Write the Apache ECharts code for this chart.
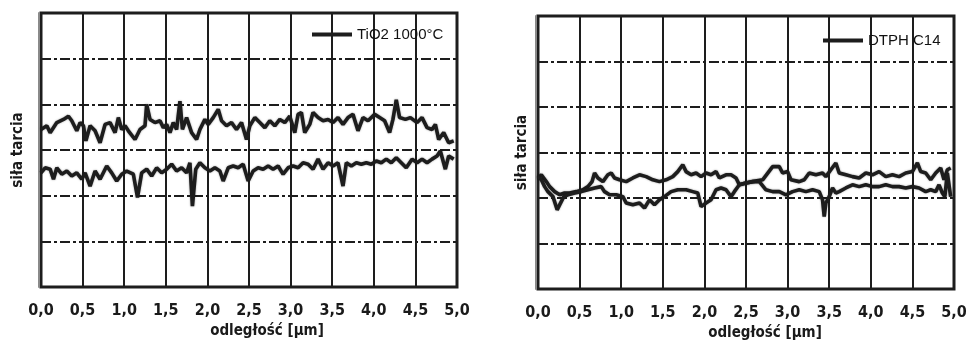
<!DOCTYPE html>
<html>
<head>
<meta charset="utf-8">
<script src="https://cdn.jsdelivr.net/npm/echarts@6/dist/echarts.min.js"></script>
<style>
  html, body { margin: 0; padding: 0; background: #ffffff; }
  #chart { width: 966px; height: 340px; }
</style>
</head>
<body>
<div id="chart"></div>
<script>
// Friction force traces along the scan distance (forward and return passes)
const xTickLabels = ['0,0', '0,5', '1,0', '1,5', '2,0', '2,5', '3,0', '3,5', '4,0', '4,5', '5,0'];
const seriesNames = ['TiO2 1000°C', 'DTPH C14'];
const xAxisTitle = 'odległość [µm]';
const yAxisTitle = 'siła tarcia';

// TiO2 1000°C - upper pass
const tioUpperX = [0.00,0.07,0.11,0.19,0.27,0.33,0.37,0.43,0.47,0.51,0.54,0.59,0.65,0.71,0.77,0.83,0.89,0.93,0.97,1.01,1.05,1.13,1.19,1.25,1.27,1.31,1.37,1.43,1.47,1.51,1.55,1.59,1.63,1.67,1.70,1.75,1.81,1.87,1.91,1.97,2.01,2.07,2.13,2.17,2.23,2.29,2.35,2.41,2.47,2.51,2.57,2.63,2.69,2.75,2.81,2.87,2.93,2.99,3.05,3.09,3.13,3.17,3.23,3.27,3.33,3.39,3.45,3.51,3.57,3.63,3.69,3.75,3.81,3.87,3.93,4.01,4.07,4.13,4.19,4.23,4.27,4.31,4.38,4.44,4.52,4.58,4.64,4.70,4.74,4.78,4.84,4.90,4.96];
const tioUpperY = [3.45,3.53,3.38,3.60,3.67,3.74,3.64,3.42,3.60,3.53,3.20,3.53,3.42,3.16,3.56,3.60,3.38,3.71,3.45,3.53,3.42,3.23,3.45,3.53,4.00,3.67,3.60,3.64,3.49,3.56,3.38,3.60,3.45,4.07,3.45,3.71,3.38,3.23,3.45,3.67,3.56,3.71,3.89,3.64,3.53,3.60,3.45,3.60,3.23,3.53,3.71,3.60,3.49,3.64,3.53,3.67,3.60,3.74,3.38,3.78,3.82,3.38,3.56,3.82,3.71,3.64,3.67,3.60,3.71,3.56,3.71,3.78,3.42,3.71,3.64,3.78,3.71,3.64,3.38,3.67,4.10,3.71,3.67,3.71,3.60,3.71,3.49,3.45,3.56,3.23,3.38,3.16,3.20];

// TiO2 1000°C - lower pass
const tioLowerX = [0.00,0.05,0.11,0.15,0.19,0.25,0.31,0.37,0.43,0.49,0.53,0.59,0.65,0.71,0.79,0.85,0.91,0.97,1.03,1.11,1.16,1.21,1.27,1.33,1.39,1.45,1.51,1.57,1.63,1.69,1.75,1.79,1.82,1.86,1.91,1.97,2.03,2.09,2.15,2.19,2.25,2.31,2.37,2.43,2.49,2.55,2.61,2.67,2.73,2.79,2.85,2.91,2.97,3.03,3.09,3.15,3.21,3.27,3.33,3.39,3.45,3.51,3.57,3.63,3.67,3.73,3.79,3.85,3.91,3.97,4.03,4.09,4.15,4.21,4.27,4.33,4.39,4.46,4.52,4.58,4.64,4.70,4.76,4.80,4.86,4.90,4.96];
const tioLowerY = [2.50,2.61,2.58,2.36,2.61,2.47,2.54,2.43,2.50,2.36,2.50,2.21,2.54,2.36,2.65,2.50,2.32,2.47,2.54,2.47,1.96,2.50,2.58,2.43,2.61,2.50,2.58,2.69,2.54,2.61,2.50,2.72,1.77,2.58,2.72,2.61,2.54,2.61,2.54,2.32,2.61,2.65,2.61,2.69,2.32,2.54,2.61,2.58,2.65,2.58,2.65,2.47,2.61,2.65,2.61,2.72,2.69,2.58,2.80,2.58,2.72,2.65,2.72,2.21,2.72,2.65,2.72,2.69,2.72,2.69,2.76,2.72,2.80,2.72,2.83,2.72,2.61,2.80,2.72,2.80,2.72,2.80,2.87,2.98,2.58,2.87,2.80];

// DTPH C14 - upper pass
const dtphUpperX = [0.00,0.04,0.10,0.14,0.20,0.26,0.32,0.38,0.46,0.54,0.60,0.65,0.68,0.72,0.78,0.84,0.88,0.92,0.98,1.06,1.14,1.22,1.30,1.38,1.46,1.54,1.62,1.68,1.74,1.78,1.84,1.90,1.96,2.02,2.08,2.14,2.18,2.26,2.32,2.38,2.42,2.50,2.58,2.70,2.82,2.90,2.94,3.00,3.04,3.14,3.20,3.26,3.34,3.42,3.46,3.52,3.58,3.62,3.70,3.78,3.86,3.94,4.02,4.10,4.18,4.26,4.34,4.42,4.50,4.56,4.60,4.66,4.72,4.78,4.84,4.88,4.92,4.96];
const dtphUpperY = [2.44,2.51,2.36,2.25,2.14,2.07,2.11,2.11,2.14,2.18,2.25,2.36,2.55,2.44,2.36,2.51,2.55,2.44,2.40,2.36,2.44,2.51,2.47,2.40,2.36,2.40,2.47,2.58,2.73,2.58,2.51,2.55,2.47,2.55,2.51,2.58,2.44,2.51,2.51,2.44,2.29,2.33,2.36,2.40,2.69,2.69,2.55,2.58,2.40,2.36,2.40,2.55,2.51,2.55,2.47,2.62,2.77,2.55,2.51,2.47,2.44,2.55,2.51,2.58,2.47,2.51,2.47,2.55,2.58,2.77,2.58,2.55,2.40,2.55,2.66,2.40,2.62,2.66];

// DTPH C14 - lower pass
const dtphLowerX = [0.00,0.04,0.08,0.12,0.18,0.23,0.26,0.31,0.36,0.44,0.52,0.60,0.68,0.76,0.80,0.86,0.94,1.02,1.06,1.14,1.22,1.28,1.34,1.40,1.46,1.52,1.60,1.68,1.78,1.86,1.92,1.96,2.02,2.08,2.14,2.20,2.26,2.32,2.36,2.42,2.50,2.58,2.66,2.74,2.82,2.90,2.98,3.06,3.14,3.22,3.30,3.38,3.42,3.44,3.46,3.50,3.54,3.58,3.62,3.70,3.78,3.86,3.94,4.02,4.10,4.18,4.26,4.34,4.42,4.50,4.58,4.66,4.72,4.78,4.82,4.86,4.89,4.92,4.96];
const dtphLowerY = [2.47,2.40,2.25,2.14,2.03,1.74,1.85,2.03,2.07,2.11,2.14,2.18,2.22,2.25,2.14,2.07,2.07,2.03,1.89,1.85,1.89,1.78,1.96,1.85,1.96,2.03,2.14,2.18,2.18,2.14,2.11,1.81,1.89,1.96,2.18,2.22,2.18,2.03,2.14,2.29,2.33,2.36,2.36,2.18,2.14,2.14,2.07,2.14,2.18,2.14,2.18,2.14,1.96,1.59,1.89,2.03,2.22,2.11,2.14,2.22,2.29,2.25,2.29,2.25,2.25,2.29,2.25,2.25,2.22,2.25,2.22,2.14,2.18,2.14,2.29,2.11,2.03,2.55,2.03];

const zip = (xs, ys) => xs.map((x, i) => [x, ys[i]]);

const INK = '#1d1d1d';
const NARROW = "'Liberation Sans Narrow', 'DejaVu Sans Condensed', 'Arial Narrow', sans-serif";
const PLAIN = "'Liberation Sans', Arial, sans-serif";

const panels = [
  { left: 41, top: 13, width: 416, height: 274, nameGap: 13, namePad: 36, legendLeft: 312, legendTop: 27 },
  { left: 538, top: 16, width: 416, height: 273, nameGap: 6, namePad: 38, legendLeft: 823, legendTop: 33 }
];

function xAxisFor(i, p) {
  return {
    type: 'value', gridIndex: i, min: 0, max: 5, interval: 0.5,
    axisLine: { show: false },
    axisTick: { show: false },
    splitLine: { show: true, lineStyle: { color: INK, width: 2, type: 'solid' } },
    axisLabel: {
      margin: 16, color: '#1a1a1a', fontFamily: NARROW, fontWeight: 'bold', fontSize: 16,
      formatter: v => xTickLabels[Math.round(v / 0.5)]
    },
    name: xAxisTitle, nameLocation: 'middle', nameGap: 36,
    nameTextStyle: { color: '#1a1a1a', fontFamily: NARROW, fontWeight: 'bold', fontSize: 15, padding: [0, 0, 0, p.namePad] }
  };
}

function yAxisFor(i, p) {
  return {
    type: 'value', gridIndex: i, min: 0, max: 6, interval: 1,
    axisLine: { show: true, onZero: false, lineStyle: { color: '#8a8a8a', width: 2 } },
    offset: 2,
    axisTick: { show: false },
    axisLabel: { show: false },
    splitLine: { show: true, lineStyle: { color: INK, width: 2, type: [10, 3, 3, 3] } },
    name: yAxisTitle, nameLocation: 'middle', nameRotate: 90, nameGap: p.nameGap,
    nameTextStyle: { color: '#1a1a1a', fontFamily: NARROW, fontWeight: 'bold', fontSize: 15 }
  };
}

function trace(name, i, data) {
  return {
    name: name, type: 'line', xAxisIndex: i, yAxisIndex: i,
    data: data, symbol: 'none', showSymbol: false, smooth: false,
    lineStyle: { color: INK, width: 3.6, shadowColor: 'rgba(0,0,0,0.4)', shadowBlur: 2 },
    itemStyle: { color: INK },
    emphasis: { disabled: true }, z: 3
  };
}

const option = {
  backgroundColor: '#ffffff',
  animation: false,
  grid: panels.map(p => ({
    left: p.left, top: p.top, width: p.width, height: p.height,
    outerBoundsMode: 'none',
    show: true, borderColor: INK, borderWidth: 3, backgroundColor: 'transparent', containLabel: false
  })),
  xAxis: panels.map((p, i) => xAxisFor(i, p)),
  yAxis: panels.map((p, i) => yAxisFor(i, p)),
  legend: panels.map((p, i) => ({
    left: p.legendLeft, top: p.legendTop, padding: 0,
    data: [seriesNames[i]], icon: 'rect', itemWidth: 40, itemHeight: 4, itemGap: 0,
    textStyle: { color: '#111', fontFamily: PLAIN, fontSize: 15 },
    selectedMode: false
  })),
  series: [
    trace(seriesNames[0], 0, zip(tioUpperX, tioUpperY)),
    trace(seriesNames[0], 0, zip(tioLowerX, tioLowerY)),
    trace(seriesNames[1], 1, zip(dtphUpperX, dtphUpperY)),
    trace(seriesNames[1], 1, zip(dtphLowerX, dtphLowerY))
  ]
};

const chart = echarts.init(document.getElementById('chart'), null, { renderer: 'canvas' });
chart.setOption(option);
</script>
</body>
</html>
